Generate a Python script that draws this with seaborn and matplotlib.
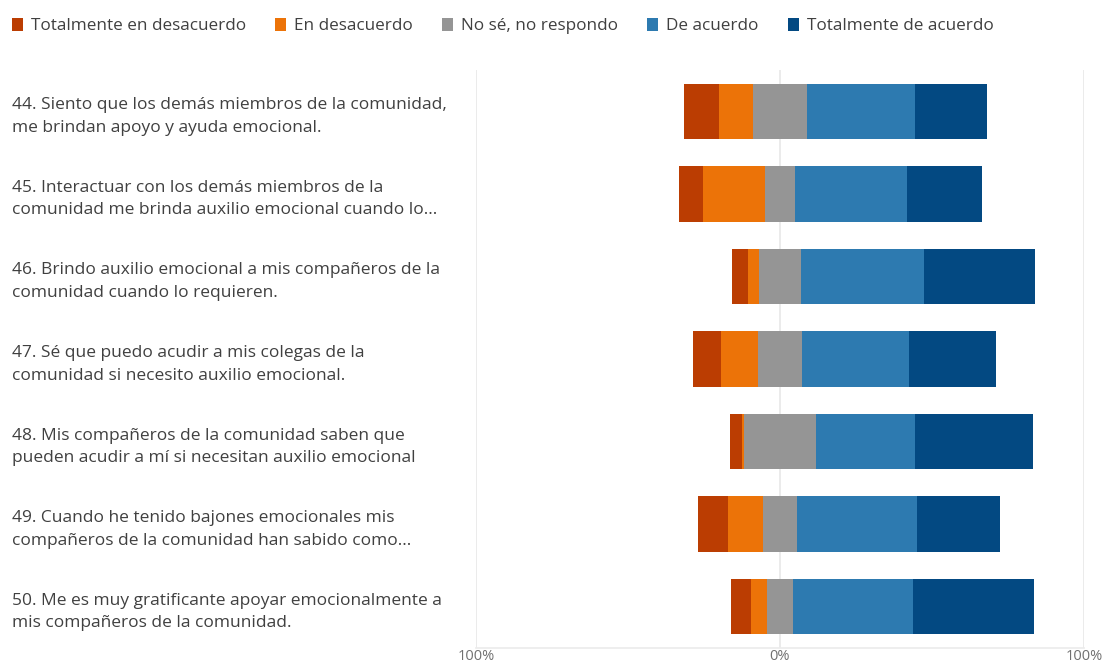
import numpy as np
import pandas as pd
import matplotlib
matplotlib.use("Agg")
import matplotlib.pyplot as plt
from matplotlib.patches import Patch
import seaborn as sns

questions = [
    "44. Siento que los demás miembros de la comunidad,\nme brindan apoyo y ayuda emocional.",
    "45. Interactuar con los demás miembros de la\ncomunidad me brinda auxilio emocional cuando lo...",
    "46. Brindo auxilio emocional a mis compañeros de la\ncomunidad cuando lo requieren.",
    "47. Sé que puedo acudir a mis colegas de la\ncomunidad si necesito auxilio emocional.",
    "48. Mis compañeros de la comunidad saben que\npueden acudir a mí si necesitan auxilio emocional",
    "49. Cuando he tenido bajones emocionales mis\ncompañeros de la comunidad han sabido como...",
    "50. Me es muy gratificante apoyar emocionalmente a\nmis compañeros de la comunidad.",
]
categories = ["Totalmente en desacuerdo", "En desacuerdo", "No sé, no respondo",
              "De acuerdo", "Totalmente de acuerdo"]
tot_desacuerdo = [11.4, 7.7, 5.3, 9.1, 4.1, 9.8, 6.6]
desacuerdo = [11.3, 20.4, 3.6, 12.3, 0.7, 11.6, 5.2]
no_se = [17.8, 10.1, 14.1, 14.2, 23.4, 11.2, 8.7]
de_acuerdo = [35.5, 36.6, 40.3, 35.3, 32.8, 39.5, 39.3]
tot_acuerdo = [23.7, 24.8, 36.5, 28.8, 38.8, 27.4, 40.0]
tick_vals = [-100, 0, 100]
tick_labels = ["100%", "0%", "100%"]

colors = ["#BB3D02", "#EC7308", "#959595", "#2D7AB0", "#034982"]

df = pd.DataFrame({"q": questions, "td": tot_desacuerdo, "d": desacuerdo,
                   "n": no_se, "a": de_acuerdo, "ta": tot_acuerdo})
df["n_left"] = -df["n"] / 2
df["d_end"] = df["n_left"] - df["d"]
df["td_end"] = df["d_end"] - df["td"]
df["n_right"] = df["n"] / 2
df["a_end"] = df["n_right"] + df["a"]
df["ta_end"] = df["a_end"] + df["ta"]

sns.set_theme(style="white")
font = ["Open Sans", "DejaVu Sans"]
plt.rcParams["font.family"] = font
text_color = "#404040"

fig = plt.figure(figsize=(11.04, 6.65), dpi=100)
ax = fig.add_axes([476 / 1104, 17 / 665, 608 / 1104, 578 / 665])

draw = [("ta_end", colors[4]), ("a_end", colors[3]), ("n_right", colors[2]),
        ("td_end", colors[0]), ("d_end", colors[1]), ("n_left", colors[2])]
for col, c in draw:
    sns.barplot(data=df, x=col, y="q", order=questions, color=c, saturation=1,
                width=0.67, linewidth=0, errorbar=None, orient="h", ax=ax)

ax.set_xlim(-100, 100)
ax.set_ylim(6.5, -0.5)
ax.set_xlabel("")
ax.set_ylabel("")
ax.set_xticks(tick_vals)
ax.set_xticklabels(tick_labels, color="#707070", fontsize=10.5)
for v in tick_vals:
    ax.axvline(v, color="#e8e8e8", lw=1.2, zorder=0)
ax.set_axisbelow(True)
for s in ["top", "right", "left"]:
    ax.spines[s].set_visible(False)
ax.spines["bottom"].set_color("#ececec")
ax.tick_params(axis="x", length=0, pad=1)
ax.tick_params(axis="y", length=0, pad=464 * 0.72)
ax.set_yticks(range(len(questions)))
ax.set_yticklabels(questions, ha="left", color=text_color, fontsize=12.5,
                   linespacing=1.55)

handles = [Patch(facecolor=c, edgecolor="none") for c in colors]
fig.legend(handles, categories, loc="upper left", bbox_to_anchor=(0.0, 0.991),
           ncol=5, frameon=False, fontsize=12.3, handlelength=0.62,
           handleheight=0.8, handletextpad=0.5, columnspacing=1.7,
           labelcolor=text_color, borderaxespad=0.3)

fig.savefig("out.png", dpi=100)
